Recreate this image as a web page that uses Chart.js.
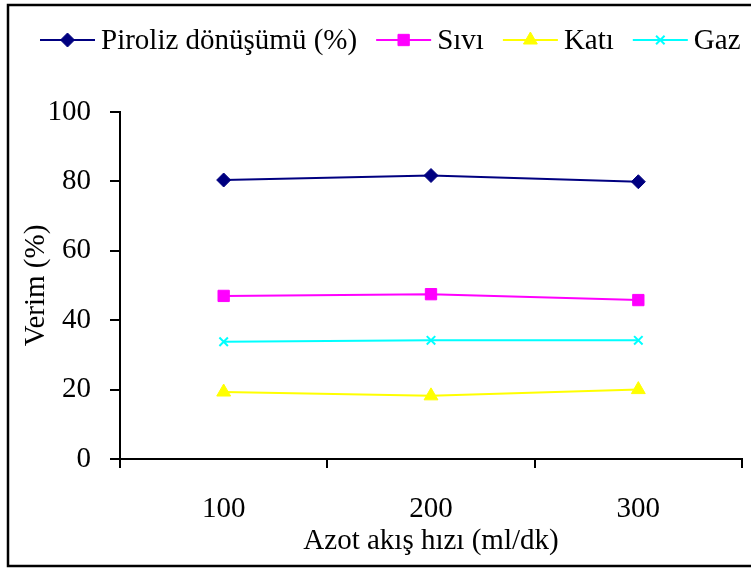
<!DOCTYPE html>
<html>
<head>
<meta charset="utf-8">
<script src="https://cdn.jsdelivr.net/npm/chart.js@4/dist/chart.umd.min.js"></script>
<style>
  html, body { margin: 0; padding: 0; background: #fff; }
  #wrap { width: 751px; height: 570px; }
</style>
</head>
<body>
<div id="wrap"><canvas id="c" width="751" height="570"></canvas></div>
<script>
// Nitrogen flow rate (ml/dk) and pyrolysis yields (%)
const flowRates = ['100', '200', '300'];
const conversion = [80.4, 81.7, 79.9];
const liquid = [47.0, 47.5, 45.8];
const solid = [19.3, 18.2, 20.0];
const gas = [33.8, 34.2, 34.2];
const yTicks = [0, 20, 40, 60, 80, 100];

const FONT = '"Liberation Serif", "Times New Roman", serif';
const FSIZE = 29;

// Legend drawn as line + marker samples in one row across the top
const lineLegend = {
  id: 'lineLegend',
  afterDraw(chart) {
    const ctx = chart.ctx;
    ctx.save();
    ctx.font = FSIZE + 'px ' + FONT;
    ctx.textBaseline = 'middle';
    ctx.textAlign = 'left';
    const y = 40;
    let x = 40;
    chart.data.datasets.forEach((ds) => {
      const len = 55;
      ctx.strokeStyle = ds.borderColor;
      ctx.fillStyle = ds.borderColor;
      ctx.lineWidth = ds.borderWidth;
      ctx.beginPath();
      ctx.moveTo(x, y);
      ctx.lineTo(x + len, y);
      ctx.stroke();
      ctx.lineWidth = ds.pointBorderWidth;
      Chart.helpers.drawPoint(ctx, {
        pointStyle: ds.pointStyle,
        radius: ds.pointRadius,
        rotation: 0,
        borderWidth: ds.pointBorderWidth
      }, x + len / 2, y);
      ctx.fillStyle = '#000';
      ctx.fillText(ds.label, x + len + 6, y + 1);
      x += len + 6 + ctx.measureText(ds.label).width + 19;
    });
    ctx.restore();
  }
};

// Outer frame around the whole figure
const frame = {
  id: 'frame',
  afterDraw(chart) {
    const ctx = chart.ctx;
    ctx.save();
    ctx.strokeStyle = '#000';
    ctx.lineWidth = 2.5;
    ctx.strokeRect(8, 5, 760, 561);
    ctx.restore();
  }
};

function series(label, data, color, style, radius) {
  return {
    label, data,
    borderColor: color,
    backgroundColor: color,
    pointBackgroundColor: color,
    pointBorderColor: color,
    borderWidth: 2,
    pointStyle: style,
    pointRadius: radius,
    pointHoverRadius: radius,
    pointBorderWidth: style === 'crossRot' ? 2 : 1,
    tension: 0,
    fill: false
  };
}

new Chart(document.getElementById('c'), {
  type: 'line',
  data: {
    labels: flowRates,
    datasets: [
      series('Piroliz dönüşümü (%)', conversion, '#000080', 'rectRot', 7),
      series('Sıvı', liquid, '#FF00FF', 'rect', 8),
      series('Katı', solid, '#FFFF00', 'triangle', 8),
      series('Gaz', gas, '#00FFFF', 'crossRot', 6)
    ]
  },
  options: {
    responsive: false,
    animation: false,
    layout: { padding: { top: 112, left: 0, right: 7, bottom: 11 } },
    plugins: {
      legend: { display: false },
      tooltip: { enabled: false }
    },
    scales: {
      x: {
        type: 'category',
        offset: true,
        afterFit(scale) { scale.height = 100; },
        grid: {
          offset: true,
          drawOnChartArea: false,
          drawTicks: true,
          tickLength: 9,
          color: '#000',
          lineWidth: 2
        },
        border: { color: '#000', width: 2 },
        ticks: {
          color: '#000',
          font: { family: FONT, size: FSIZE },
          padding: 24,
          maxRotation: 0
        },
        title: {
          display: true,
          text: 'Azot akış hızı (ml/dk)',
          color: '#000',
          font: { family: FONT, size: FSIZE },
          padding: { top: 0, bottom: 0 }
        }
      },
      y: {
        min: 0,
        max: 100,
        afterFit(scale) { scale.width = 120; },
        afterBuildTicks(axis) { axis.ticks = yTicks.map(v => ({ value: v })); },
        grid: {
          drawOnChartArea: false,
          drawTicks: true,
          tickLength: 10,
          color: '#000',
          lineWidth: 2
        },
        border: { color: '#000', width: 2 },
        ticks: {
          color: '#000',
          font: { family: FONT, size: FSIZE },
          padding: 19
        },
        title: {
          display: true,
          text: 'Verim (%)',
          color: '#000',
          font: { family: FONT, size: FSIZE },
          padding: { top: 19, bottom: 0 }
        }
      }
    }
  },
  plugins: [lineLegend, frame]
});
</script>
</body>
</html>
